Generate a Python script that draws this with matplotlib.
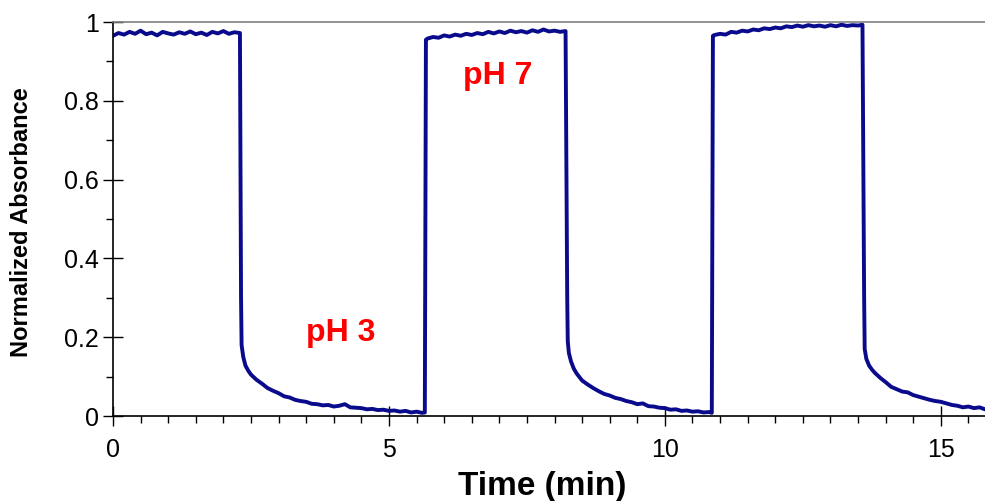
import matplotlib
matplotlib.use("Agg")
import matplotlib.pyplot as plt
from matplotlib.ticker import MultipleLocator

plt.rcParams['font.family'] = ['Liberation Sans', 'DejaVu Sans']

# ---- data (time in min, normalized absorbance) ----
plateau1_t = [0.0, 0.1, 0.2, 0.3, 0.4, 0.5, 0.6, 0.7, 0.8, 0.9, 1.0, 1.1, 1.2, 1.3, 1.4,
              1.5, 1.6, 1.7, 1.8, 1.9, 2.0, 2.1, 2.2, 2.3]
plateau1_a = [0.965, 0.972, 0.968, 0.975, 0.970, 0.978, 0.969, 0.973, 0.966, 0.975, 0.971,
              0.968, 0.974, 0.970, 0.976, 0.969, 0.973, 0.967, 0.975, 0.971, 0.977, 0.970,
              0.974, 0.972]
decay1_t = [2.32, 2.33, 2.36, 2.40, 2.45, 2.5, 2.6, 2.7, 2.8, 2.9, 3.0, 3.1, 3.2, 3.3, 3.4,
            3.5, 3.6, 3.7, 3.8, 3.9, 4.0, 4.1, 4.2, 4.3, 4.4, 4.5, 4.6, 4.7, 4.8, 4.9, 5.0,
            5.1, 5.2, 5.3, 5.4, 5.5, 5.6, 5.65]
decay1_a = [0.30, 0.18, 0.15, 0.128, 0.115, 0.105, 0.092, 0.082, 0.071, 0.064, 0.058, 0.050,
            0.047, 0.041, 0.038, 0.036, 0.031, 0.030, 0.027, 0.028, 0.024, 0.026, 0.030, 0.022,
            0.021, 0.020, 0.017, 0.018, 0.015, 0.016, 0.013, 0.014, 0.011, 0.013, 0.009, 0.011,
            0.008, 0.009]
plateau2_t = [5.67, 5.7, 5.8, 5.9, 6.0, 6.1, 6.2, 6.3, 6.4, 6.5, 6.6, 6.7, 6.8, 6.9, 7.0, 7.1,
              7.2, 7.3, 7.4, 7.5, 7.6, 7.7, 7.8, 7.9, 8.0, 8.1, 8.2]
plateau2_a = [0.955, 0.958, 0.962, 0.960, 0.966, 0.963, 0.968, 0.965, 0.970, 0.967, 0.972,
              0.969, 0.975, 0.971, 0.976, 0.972, 0.978, 0.974, 0.977, 0.973, 0.979, 0.975,
              0.981, 0.976, 0.978, 0.975, 0.977]
decay2_t = [8.23, 8.24, 8.26, 8.30, 8.35, 8.4, 8.5, 8.6, 8.7, 8.8, 8.9, 9.0, 9.1, 9.2, 9.3,
            9.4, 9.5, 9.6, 9.7, 9.8, 9.9, 10.0, 10.1, 10.2, 10.3, 10.4, 10.5, 10.6, 10.7,
            10.8, 10.85]
decay2_a = [0.30, 0.19, 0.16, 0.138, 0.12, 0.108, 0.090, 0.080, 0.071, 0.063, 0.056, 0.052,
            0.046, 0.043, 0.038, 0.035, 0.030, 0.032, 0.025, 0.024, 0.021, 0.020, 0.016, 0.017,
            0.013, 0.014, 0.011, 0.012, 0.009, 0.010, 0.008]
plateau3_t = [10.87, 10.9, 11.0, 11.1, 11.2, 11.3, 11.4, 11.5, 11.6, 11.7, 11.8, 11.9, 12.0,
              12.1, 12.2, 12.3, 12.4, 12.5, 12.6, 12.7, 12.8, 12.9, 13.0, 13.1, 13.2, 13.3,
              13.4, 13.5, 13.58]
plateau3_a = [0.965, 0.967, 0.970, 0.968, 0.975, 0.973, 0.978, 0.976, 0.981, 0.979, 0.984,
              0.982, 0.986, 0.984, 0.989, 0.987, 0.991, 0.988, 0.992, 0.989, 0.991, 0.988,
              0.992, 0.989, 0.993, 0.990, 0.992, 0.991, 0.993]
decay3_t = [13.61, 13.62, 13.65, 13.7, 13.75, 13.8, 13.9, 14.0, 14.1, 14.2, 14.3, 14.4, 14.5,
            14.6, 14.7, 14.8, 14.9, 15.0, 15.1, 15.2, 15.3, 15.4, 15.5, 15.6, 15.7, 15.8]
decay3_a = [0.30, 0.17, 0.145, 0.128, 0.118, 0.110, 0.097, 0.086, 0.074, 0.068, 0.062, 0.060,
            0.053, 0.049, 0.045, 0.041, 0.038, 0.036, 0.032, 0.028, 0.026, 0.022, 0.024, 0.020,
            0.022, 0.017]

time = plateau1_t + decay1_t + plateau2_t + decay2_t + plateau3_t + decay3_t
absorb = plateau1_a + decay1_a + plateau2_a + decay2_a + plateau3_a + decay3_a

annotations = [("pH 3", 4.13, 0.21), ("pH 7", 6.97, 0.862)]

# ---- figure ----
fig = plt.figure(figsize=(9.85, 5.01), dpi=100)
ax = fig.add_axes([113/985, 85/501, 1 - 113/985, (416-22)/501])

ax.plot(time, absorb, color='#0a0a8c', lw=2.8, solid_joinstyle='round')

ax.set_xlim(0, 15.8)
ax.set_ylim(0, 1)
ax.xaxis.set_major_locator(MultipleLocator(5))
ax.xaxis.set_minor_locator(MultipleLocator(0.5))
ax.yaxis.set_major_locator(MultipleLocator(0.2))
ax.yaxis.set_minor_locator(MultipleLocator(0.1))
ax.set_yticks([0, 0.2, 0.4, 0.6, 0.8, 1.0])
ax.set_yticklabels(['0', '0.2', '0.4', '0.6', '0.8', '1'])

ax.tick_params(axis='both', which='major', direction='inout', length=14, width=1,
               labelsize=18, color='black')
ax.tick_params(axis='both', which='minor', direction='out', length=5, width=1)
ax.tick_params(axis='x', which='major', pad=9)
ax.tick_params(axis='y', which='major', pad=3)

for s in ['left', 'bottom']:
    ax.spines[s].set_color('black')
    ax.spines[s].set_linewidth(1.2)
ax.spines['right'].set_visible(False)
ax.spines['top'].set_color('#808080')
ax.spines['top'].set_linewidth(1.2)

for txt, x, y in annotations:
    ax.text(x, y, txt, color='#ff0000', fontsize=23, fontweight='bold',
            ha='center', va='center')

fig.text(542/985, 1 - 487/501, 'Time (min)', fontsize=24, fontweight='bold',
         ha='center', va='center')
fig.text(22/985, 1 - 222/501, 'Normalized Absorbance', fontsize=17, fontweight='bold',
         ha='center', va='center', rotation=90)

fig.savefig('out.png', dpi=100)
